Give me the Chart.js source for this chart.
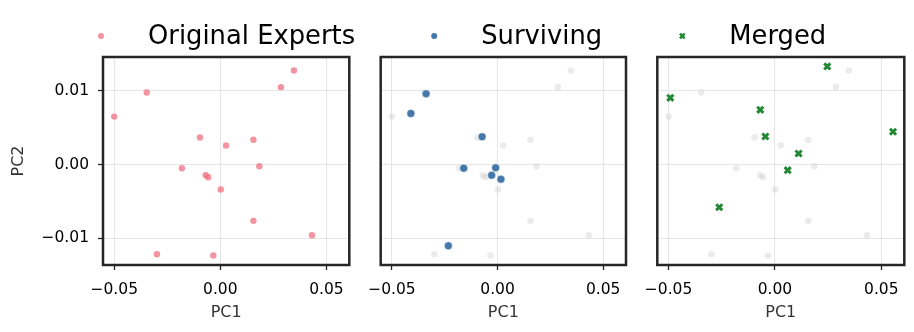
<!DOCTYPE html>
<html>
<head>
<meta charset="utf-8">
<script src="https://cdn.jsdelivr.net/npm/chart.js@4.4.0/dist/chart.umd.min.js"></script>
<style>
  body { margin: 0; background: #fff; width: 914px; height: 332px; position: relative; overflow: hidden; }
  .painel { position: absolute; top: 0; height: 332px; }
</style>
</head>
<body>
<div class="painel" style="left:0;width:356px"><canvas id="g_original"></canvas></div>
<div class="painel" style="left:350px;width:282px"><canvas id="g_surviving"></canvas></div>
<div class="painel" style="left:627px;width:287px"><canvas id="g_merged"></canvas></div>

<script>
// dados (PC1 / PC2)
var original_pc1 = [0.0347, 0.0286, -0.0347, -0.0500, -0.0096, 0.0156, 0.0027, -0.0181, 0.0184, -0.0069, -0.0057, 0.0002, 0.0156, 0.0432, -0.0299, -0.0033];
var original_pc2 = [0.01275, 0.01049, 0.00977, 0.0065, 0.00366, 0.00335, 0.00258, -0.0005, -0.00023, -0.00145, -0.00172, -0.00339, -0.00764, -0.0096, -0.01217, -0.01235];

var surviving_pc1 = [-0.0338, -0.0410, -0.0073, -0.0160, -0.0009, -0.0028, 0.0016, -0.0233];
var surviving_pc2 = [0.00959, 0.00692, 0.00376, -0.0005, -0.00045, -0.00145, -0.00199, -0.01103];

var merged_pc1 = [0.0246, -0.0492, -0.0069, -0.0045, 0.0555, 0.0111, 0.0060, -0.0262];
var merged_pc2 = [0.0133, 0.00905, 0.00742, 0.0038, 0.00444, 0.00149, -0.00077, -0.0058];

var legendas = ["Original Experts", "Surviving", "Merged"];

var x_ticks = [-0.05, 0, 0.05];
var x_tick_labels = ["\u22120.05", "0.00", "0.05"];
var y_ticks = [-0.01, 0, 0.01];
var y_tick_labels = ["\u22120.01", "0.00", "0.01"];

var x_lim = [-0.0553, 0.0608];
var y_lim = [-0.01363, 0.01458];

var fonte = "'DejaVu Sans', sans-serif";
var cor_eixo = "#262626";

function pontos(xs, ys) {
  var lista = [];
  for (var i = 0; i < xs.length; i++) {
    lista.push({ x: xs[i], y: ys[i] });
  }
  return lista;
}

// legenda desenhada acima de cada painel
const legendaPlugin = {
  id: "legenda",
  afterDraw(chart, args, opts) {
    const ctx = chart.ctx;
    const area = chart.chartArea;
    const ds = chart.data.datasets[0];
    const mx = area.left + opts.markerX;
    ctx.save();
    ctx.fillStyle = ds.pointBackgroundColor;
    ctx.strokeStyle = ds.pointBorderColor;
    ctx.lineWidth = opts.borderWidth;
    Chart.helpers.drawPoint(ctx, { pointStyle: ds.pointStyle, radius: opts.radius, borderWidth: opts.borderWidth, rotation: 0 }, mx, 36);
    ctx.fillStyle = "#000";
    ctx.font = "25.8px " + fonte;
    ctx.textBaseline = "alphabetic";
    ctx.textAlign = "left";
    ctx.fillText(ds.label, mx + 47, 43.5);
    ctx.restore();
  },
};

// moldura preta em volta da area do grafico
const molduraPlugin = {
  id: "moldura",
  afterDraw(chart) {
    const ctx = chart.ctx;
    const a = chart.chartArea;
    ctx.save();
    ctx.strokeStyle = cor_eixo;
    ctx.lineWidth = 2.5;
    ctx.strokeRect(a.left, a.top, a.right - a.left, a.bottom - a.top);
    ctx.restore();
  },
};

function criar_grafico(id, datasets, cfg) {
  const canvas = document.getElementById(id);

  new Chart(canvas, {
    type: "scatter",
    data: { datasets: datasets },
    options: {
      responsive: true,
      maintainAspectRatio: false,
      animation: false,
      events: [],
      layout: { padding: { top: 57, right: cfg.padRight, left: 0, bottom: 0 } },
      plugins: {
        legend: { display: false },
        tooltip: { enabled: false },
        legenda: cfg.legenda,
      },
      scales: {
        x: {
          type: "linear",
          min: x_lim[0],
          max: x_lim[1],
          afterBuildTicks: function (s) {
            s.ticks = x_ticks.map(function (v) { return { value: v }; });
          },
          afterFit: function (s) { s.height = 67; },
          border: { display: false },
          grid: { color: "#e6e6e6", lineWidth: 1, drawTicks: true, tickLength: 5, tickColor: cor_eixo, tickWidth: 1.3 },
          ticks: {
            color: "#000",
            font: { family: fonte, size: 15.5 },
            padding: 11,
            maxRotation: 0,
            callback: function (v, i) { return x_tick_labels[i]; },
          },
          title: {
            display: true,
            text: "PC1",
            color: "#333",
            font: { family: fonte, size: 16 },
            padding: { top: 0, bottom: 10 },
          },
        },
        y: {
          type: "linear",
          min: y_lim[0],
          max: y_lim[1],
          afterBuildTicks: function (s) {
            s.ticks = y_ticks.map(function (v) { return { value: v }; });
          },
          afterFit: function (s) { s.width = cfg.yWidth; },
          border: { display: false },
          grid: { color: "#e6e6e6", lineWidth: 1, drawTicks: cfg.yLabels, tickLength: 5, tickColor: cor_eixo, tickWidth: 1.3 },
          ticks: {
            display: cfg.yLabels,
            color: "#000",
            font: { family: fonte, size: 15.5 },
            padding: 9,
            callback: function (v, i) { return y_tick_labels[i]; },
          },
          title: {
            display: cfg.yLabels,
            text: "PC2",
            color: "#333",
            font: { family: fonte, size: 16 },
            padding: { top: 9, bottom: 0 },
          },
        },
      },
    },
    plugins: [legendaPlugin, molduraPlugin],
  });
}

var fundo_cinza = {
  label: "fundo",
  data: pontos(original_pc1, original_pc2),
  pointStyle: "circle",
  pointRadius: 3.3,
  pointBackgroundColor: "rgba(190,190,190,0.3)",
  pointBorderColor: "rgba(190,190,190,0)",
  pointBorderWidth: 0,
  order: 1,
};

criar_grafico("g_original", [
  {
    label: legendas[0],
    data: pontos(original_pc1, original_pc2),
    pointStyle: "circle",
    pointRadius: 3.2,
    pointBackgroundColor: "rgba(238,102,119,0.7)",
    pointBorderColor: "rgba(238,102,119,0)",
    pointBorderWidth: 0,
    order: 0,
  },
], { padRight: 6.7, yWidth: 103, yLabels: true, legenda: { markerX: -2, radius: 3, borderWidth: 0 } });

criar_grafico("g_surviving", [
  {
    label: legendas[1],
    data: pontos(surviving_pc1, surviving_pc2),
    pointStyle: "circle",
    pointRadius: 4,
    pointBackgroundColor: "#4477AA",
    pointBorderColor: "#ffffff",
    pointBorderWidth: 0.5,
    order: 0,
  },
  Object.assign({}, fundo_cinza),
], { padRight: 6, yWidth: 30.7, yLabels: false, legenda: { markerX: 53.5, radius: 3, borderWidth: 0 } });

criar_grafico("g_merged", [
  {
    label: legendas[2],
    data: pontos(merged_pc1, merged_pc2),
    pointStyle: "crossRot",
    pointRadius: 4.3,
    pointBackgroundColor: "#228833",
    pointBorderColor: "#228833",
    pointBorderWidth: 3,
    order: 0,
  },
  Object.assign({}, fundo_cinza),
], { padRight: 9.7, yWidth: 30.3, yLabels: false, legenda: { markerX: 25, radius: 3.3, borderWidth: 2.6 } });
</script>
</body>
</html>
